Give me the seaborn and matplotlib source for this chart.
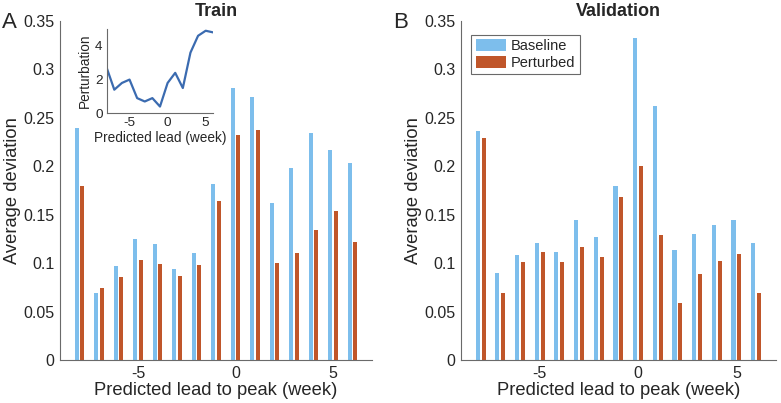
import numpy as np
import pandas as pd
import matplotlib
matplotlib.use("Agg")
import matplotlib.pyplot as plt
import seaborn as sns

weeks = [-8, -7, -6, -5, -4, -3, -2, -1, 0, 1, 2, 3, 4, 5, 6]
train_baseline = [0.240, 0.069, 0.097, 0.125, 0.120, 0.094, 0.110, 0.182, 0.281,
                  0.272, 0.162, 0.198, 0.234, 0.217, 0.203]
train_perturbed = [0.180, 0.074, 0.086, 0.103, 0.099, 0.087, 0.098, 0.164, 0.232,
                   0.238, 0.100, 0.110, 0.134, 0.154, 0.122]
val_baseline = [0.236, 0.090, 0.108, 0.121, 0.112, 0.145, 0.127, 0.180, 0.333,
                0.262, 0.114, 0.130, 0.139, 0.145, 0.121]
val_perturbed = [0.229, 0.069, 0.101, 0.112, 0.101, 0.117, 0.106, 0.168, 0.200,
                 0.129, 0.059, 0.089, 0.102, 0.109, 0.069]
inset_perturbation = [2.7, 1.4, 1.8, 2.0, 0.9, 0.7, 0.9, 0.4, 1.8, 2.4, 1.5,
                      3.6, 4.6, 4.9, 4.8]
series_names = ["Baseline", "Perturbed"]
yticks = [0, 0.05, 0.1, 0.15, 0.2, 0.25, 0.3, 0.35]
ytick_labels = ["0", "0.05", "0.1", "0.15", "0.2", "0.25", "0.3", "0.35"]

sns.set_style("white")
plt.rcParams["font.family"] = ["Liberation Sans", "DejaVu Sans"]

blue = "#7DBEEC"
orange = "#C0562A"
line_blue = "#3B6BB0"
axis_gray = "#6a6a6a"
text_col = "#262626"

fig = plt.figure(figsize=(7.81, 4.03), dpi=100)
axA = fig.add_axes([0.0768, 0.1067, 0.3995, 0.841])
axB = fig.add_axes([0.5903, 0.1067, 0.403, 0.841])


def make_df(b, p):
    return pd.DataFrame({
        "week": weeks * 2,
        "value": list(b) + list(p),
        "series": [series_names[0]] * len(weeks) + [series_names[1]] * len(weeks),
    })


def style(ax, title):
    ax.set_xlim(-9, 7)
    ax.set_ylim(0, 0.35)
    ax.set_yticks(yticks)
    ax.set_yticklabels(ytick_labels)
    ax.set_xticks([-5, 0, 5])
    ax.set_xticklabels(["-5", "0", "5"])
    for s in ["top", "right"]:
        ax.spines[s].set_visible(False)
    for s in ["left", "bottom"]:
        ax.spines[s].set_color(axis_gray)
        ax.spines[s].set_linewidth(0.8)
    ax.tick_params(direction="in", length=3, width=0.8, color=axis_gray,
                   labelsize=11.5, labelcolor=text_col, pad=4)
    ax.set_xlabel("Predicted lead to peak (week)", fontsize=13.2, color=text_col, labelpad=1)
    ax.set_ylabel("Average deviation", fontsize=13.2, color=text_col, labelpad=2)
    ax.set_title(title, fontsize=13, fontweight="bold", pad=4)


for ax, b, p, title in [(axA, train_baseline, train_perturbed, "Train"),
                        (axB, val_baseline, val_perturbed, "Validation")]:
    sns.barplot(data=make_df(b, p), x="week", y="value", hue="series",
                native_scale=True, palette=[blue, orange], width=0.6, gap=0.3,
                errorbar=None, ax=ax, linewidth=0, saturation=1)
    style(ax, title)

axA.get_legend().remove()
leg = axB.legend(loc="upper left", bbox_to_anchor=(0.033, 0.96), fontsize=10.5,
                 frameon=True, fancybox=False, edgecolor="#444444",
                 handlelength=2.1, handleheight=0.85, borderpad=0.3,
                 labelspacing=0.2, handletextpad=0.3, borderaxespad=0)
leg.get_frame().set_linewidth(0.8)

fig.text(0.003, 0.93, "A", fontsize=16)
fig.text(0.503, 0.93, "B", fontsize=16)

# inset
axI = fig.add_axes([0.1366, 0.7189, 0.1365, 0.209])
sns.lineplot(x=weeks, y=inset_perturbation, ax=axI, color=line_blue, linewidth=1.6)
axI.set_xlim(-8, 6)
axI.set_ylim(0, 5)
axI.set_xticks([-5, 0, 5])
axI.set_xticklabels(["-5", "0", "5"])
axI.set_yticks([0, 2, 4])
axI.set_yticklabels(["0", "2", "4"])
for s in ["top", "right"]:
    axI.spines[s].set_visible(False)
for s in ["left", "bottom"]:
    axI.spines[s].set_color(axis_gray)
    axI.spines[s].set_linewidth(0.8)
axI.tick_params(direction="in", length=2, width=0.8, color=axis_gray,
                labelsize=9.7, labelcolor=text_col, pad=3)
axI.set_xlabel("Predicted lead (week)", fontsize=9.8, color=text_col, labelpad=1)
axI.set_ylabel("Perturbation", fontsize=9.8, color=text_col, labelpad=2)
axI.patch.set_alpha(0)

fig.savefig("out.png", dpi=100)
